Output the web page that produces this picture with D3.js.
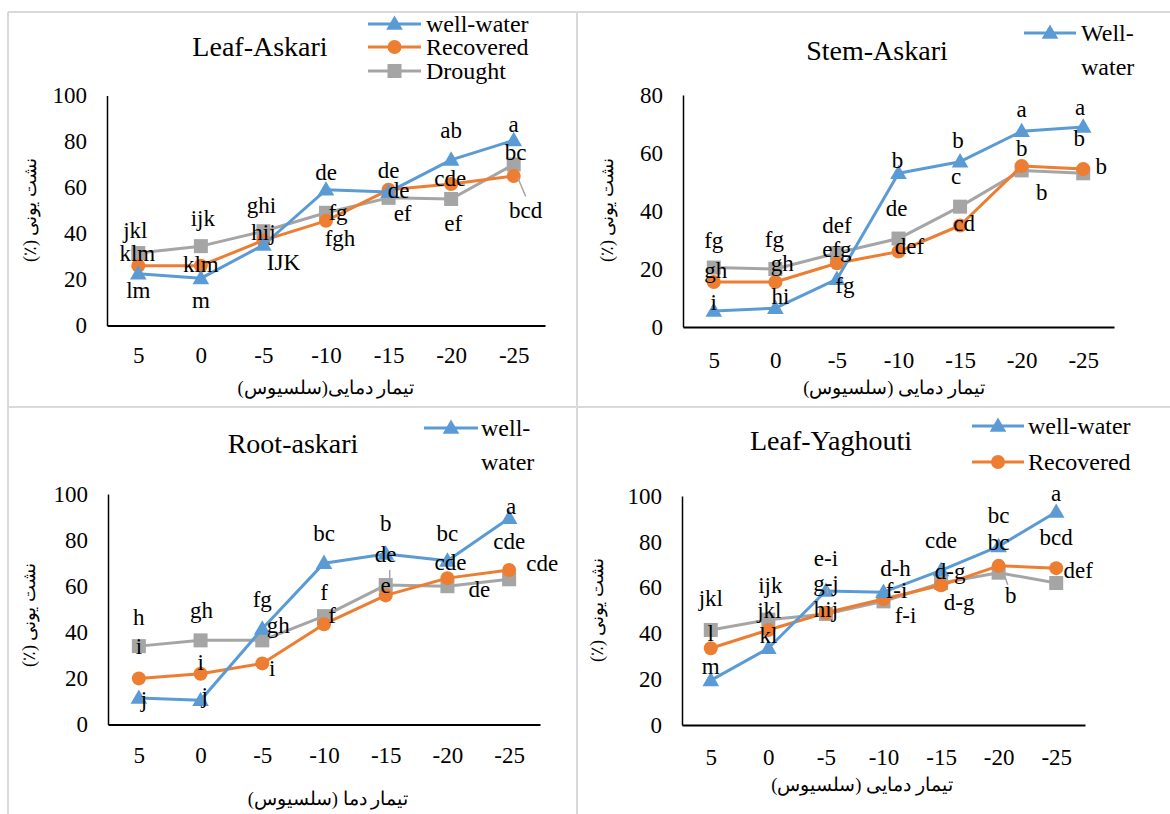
<!DOCTYPE html>
<html><head><meta charset="utf-8">
<script src="https://cdn.jsdelivr.net/npm/d3@7"></script>
<style>body{margin:0;background:#fff}svg{display:block}
text{font-family:"Liberation Serif","Times New Roman","DejaVu Serif",serif}</style>
</head><body>
<svg id="chart" width="1170" height="814"></svg>
<script>
// ---------------- DATA ----------------
const categories = ["5", "0", "-5", "-10", "-15", "-20", "-25"];
const ticks100 = [0, 20, 40, 60, 80, 100];
const ticks80 = [0, 20, 40, 60, 80];
const seriesNames = ["well-water", "Recovered", "Drought"];

// Leaf-Askari
const leafAskariWell = [22.5, 20.5, 35, 59, 58, 72, 80.5];
const leafAskariRecovered = [26, 26, 37, 45.5, 59, 61.5, 65];
const leafAskariDrought = [31.5, 34.5, 41, 49, 55.5, 55, 70];
const leafAskariWellLetters = ["lm", "m", "IJK", "de", "de", "ab", "a"];
const leafAskariRecoveredLetters = ["klm", "klm", "hij", "fgh", "de", "cde", "bc"];
const leafAskariDroughtLetters = ["jkl", "ijk", "ghi", "fg", "ef", "ef", "bcd"];

// Stem-Askari
const stemAskariWell = [5.5, 6.5, 16.5, 53, 57, 67.5, 69];
const stemAskariRecovered = [15.5, 15.5, 22, 26, 35, 55.5, 54.5];
const stemAskariDrought = [20.5, 20, 25.5, 30.5, 41.5, 54, 53];
const stemAskariWellLetters = ["i", "hi", "fg", "b", "b", "a", "a"];
const stemAskariRecoveredLetters = ["gh", "gh", "efg", "def", "cd", "b", "b"];
const stemAskariDroughtLetters = ["fg", "fg", "def", "de", "c", "b", "b"];

// Root-askari
const rootAskariWell = [11.5, 10.5, 41.5, 70, 74, 71, 89.5];
const rootAskariRecovered = [20, 22, 26.5, 43.5, 56, 63.5, 67];
const rootAskariDrought = [34, 36.5, 36.5, 47, 60.5, 60, 63];
const rootAskariWellLetters = ["j", "j", "fg", "bc", "b", "bc", "a"];
const rootAskariRecoveredLetters = ["i", "i", "i", "f", "de", "cde", "cde"];
const rootAskariDroughtLetters = ["h", "gh", "gh", "f", "e", "de", "cde"];

// Leaf-Yaghouti
const leafYaghoutiWell = [19.5, 33.5, 58.5, 58, 67.5, 78, 93];
const leafYaghoutiRecovered = [33.5, 41.5, 49, 55, 61, 69.5, 68.5];
const leafYaghoutiDrought = [41.5, 46, 48.5, 54, 62, 66.5, 62];
const leafYaghoutiWellLetters = ["m", "kl", "e-i", "d-h", "cde", "bc", "a"];
const leafYaghoutiRecoveredLetters = ["l", "jkl", "hij", "f-i", "d-g", "bc", "def"];
const leafYaghoutiDroughtLetters = ["jkl", "ijk", "g-j", "f-i", "d-g", "b", "bcd"];

const yTitle = "نشت یونی (٪)";

// ---------------- LAYOUT / STYLE ----------------
const colors = {"well-water": "#5B9BD5", "Recovered": "#ED7D31", "Drought": "#A5A5A5"};

// label offsets (px) relative to their point
const panels = [
  {
    title: "Leaf-Askari", titleX: 260, titleY: 46,
    xTitle: "تیمار دمایی(سلسیوس)", xTitleX: 326, xTitleY: 388,
    yTitleX: 30, yTitleY: 210,
    x0: 107, x1: 545, yB: 325.5, yT: 95.5, yMax: 100, ticks: ticks100, tickY: 355,
    legend: {x1: 368, x2: 421, tx: 426, rows: [["well-water", ["well-water"], 24], ["Recovered", ["Recovered"], 47], ["Drought", ["Drought"], 71]]},
    series: [
      {name: "Drought", values: leafAskariDrought, letters: leafAskariDroughtLetters,
       off: [[-3,-23],[2,-28],[-2,-26],[12,-1],[14,15],[2,24],[12,45]],
       leaders: {6: [4,13,12,32]}},
      {name: "Recovered", values: leafAskariRecovered, letters: leafAskariRecoveredLetters,
       off: [[-1,-13],[0,-2],[0,-8],[14,17],[10,0],[-1,-6],[2,-24]]},
      {name: "well-water", values: leafAskariWell, letters: leafAskariWellLetters,
       off: [[0,16],[0,22],[20,17],[0,-18],[0,-22],[0,-30],[0,-16]]}
    ]
  },
  {
    title: "Stem-Askari", titleX: 877, titleY: 50,
    xTitle: "تیمار دمایی (سلسیوس)", xTitleX: 894, xTitleY: 388,
    yTitleX: 607, yTitleY: 210,
    x0: 683, x1: 1114, yB: 327, yT: 95, yMax: 80, ticks: ticks80, tickY: 360,
    legend: {x1: 1024, x2: 1076, tx: 1081, rows: [["well-water", ["Well-", "water"], 33]]},
    series: [
      {name: "Drought", values: stemAskariDrought, letters: stemAskariDroughtLetters,
       off: [[0,-28],[-1,-30],[0,-28],[-2,-31],[-4,-31],[20,22],[-4,-35]]},
      {name: "Recovered", values: stemAskariRecovered, letters: stemAskariRecoveredLetters,
       off: [[2,-12],[7,-19],[0,-14],[11,-6],[4,-3],[0,-18],[18,-3]]},
      {name: "well-water", values: stemAskariWell, letters: stemAskariWellLetters,
       off: [[0,-9],[5,-12],[8,6],[-1,-13],[-2,-22],[0,-22],[-3,-20]]}
    ]
  },
  {
    title: "Root-askari", titleX: 293, titleY: 443,
    xTitle: "تیمار دما (سلسیوس)", xTitleX: 328, xTitleY: 799,
    yTitleX: 29, yTitleY: 615,
    x0: 108, x1: 540, yB: 724.5, yT: 494, yMax: 100, ticks: ticks100, tickY: 755,
    legend: {x1: 424, x2: 478, tx: 481, rows: [["well-water", ["well-", "water"], 428]]},
    series: [
      {name: "Drought", values: rootAskariDrought, letters: rootAskariDroughtLetters,
       off: [[0,-29],[1,-30],[16,-15],[0,-24],[0,0],[32,3],[0,-38]],
       leaders: {4: [4,-15,4,-5]}},
      {name: "Recovered", values: rootAskariRecovered, letters: rootAskariRecoveredLetters,
       off: [[0,-32],[0,-12],[10,5],[8,-9],[0,-41],[3,-16],[33,-7]]},
      {name: "well-water", values: rootAskariWell, letters: rootAskariWellLetters,
       off: [[5,1],[4,-5],[0,-30],[0,-30],[0,-31],[0,-28],[2,-12]]}
    ]
  },
  {
    title: "Leaf-Yaghouti", titleX: 831, titleY: 440,
    xTitle: "تیمار دمایی (سلسیوس)", xTitleX: 862, xTitleY: 785,
    yTitleX: 597, yTitleY: 610,
    x0: 682, x1: 1085, yB: 725, yT: 496, yMax: 100, ticks: ticks100, tickY: 757,
    legend: {x1: 972, x2: 1024, tx: 1028, rows: [["well-water", ["well-water"], 426], ["Recovered", ["Recovered"], 462]]},
    series: [
      {name: "Drought", values: leafYaghoutiDrought, letters: leafYaghoutiDroughtLetters,
       off: [[0,-32],[2,-35],[0,-31],[13,-11],[18,19],[12,22],[0,-46]],
       leaders: {2: [1.5,-27,1.5,-20], 5: [6,3,9,12]}},
      {name: "Recovered", values: leafYaghoutiRecovered, letters: leafYaghoutiRecoveredLetters,
       off: [[0,-15],[1,-20],[0,-4],[22,16],[9,-14],[0,-24],[22,2]]},
      {name: "well-water", values: leafYaghoutiWell, letters: leafYaghoutiWellLetters,
       off: [[0,-14],[0,-13],[0,-33],[12,-24],[0,-30],[0,-31],[0,-19]]}
    ]
  }
];

// ---------------- DRAW ----------------
const serif = '"Liberation Serif","Times New Roman","DejaVu Serif",serif';
const svg = d3.select("#chart");
svg.append("rect").attr("width", 1170).attr("height", 814).attr("fill", "#fff");

// panel frames
const frame = svg.append("g").attr("stroke", "#d9d9d9").attr("stroke-width", 2).attr("fill", "none");
[[8, 12, 1170, 12], [8, 407, 1170, 407], [8, 12, 8, 814], [577, 12, 577, 814]].forEach(l =>
  frame.append("line").attr("x1", l[0]).attr("y1", l[1]).attr("x2", l[2]).attr("y2", l[3]));

function marker(g, name, x, y) {
  const c = colors[name];
  if (name === "well-water") {
    g.append("path").attr("d", d3.symbol(d3.symbolTriangle, 120)())
      .attr("transform", `translate(${x},${y + 1})`).attr("fill", c);
  } else if (name === "Recovered") {
    g.append("circle").attr("cx", x).attr("cy", y).attr("r", 7).attr("fill", c);
  } else {
    g.append("rect").attr("x", x - 7).attr("y", y - 7).attr("width", 14).attr("height", 14).attr("fill", c);
  }
}

panels.forEach(p => {
  const g = svg.append("g");
  const x = d3.scalePoint().domain(categories).range([p.x0, p.x1]).padding(0.5);
  const y = d3.scaleLinear().domain([0, p.yMax]).range([p.yB, p.yT]);

  // axes
  const yAxis = d3.axisLeft(y).tickValues(p.ticks).tickSize(0).tickPadding(20);
  const ya = g.append("g").attr("transform", `translate(${p.x0},0)`).call(yAxis);
  ya.attr("font-family", null);
  ya.select(".domain").attr("stroke", "#000").attr("stroke-width", 1.5);
  ya.selectAll("text").style("font-family", serif).attr("font-size", 23).attr("fill", "#000");

  const xAxis = d3.axisBottom(x).tickSize(0).tickPadding(0);
  const xa = g.append("g").attr("transform", `translate(0,${p.yB})`).call(xAxis);
  xa.attr("font-family", null);
  xa.select(".domain").attr("stroke", "#000").attr("stroke-width", 2.2);
  xa.selectAll("text").style("font-family", serif).attr("font-size", 23).attr("fill", "#000")
    .attr("y", p.tickY - p.yB).attr("dy", "0.35em");

  // titles
  g.append("text").attr("x", p.titleX).attr("y", p.titleY).attr("dy", "0.35em")
    .attr("text-anchor", "middle").style("font-family", serif).attr("font-size", 28).text(p.title);
  g.append("text").attr("x", p.xTitleX).attr("y", p.xTitleY).attr("dy", "0.35em")
    .attr("direction", "rtl").style("direction", "rtl").style("unicode-bidi", "embed")
    .attr("text-anchor", "middle").style("font-family", serif).attr("font-size", 18.5).text(p.xTitle);
  g.append("text").attr("transform", `translate(${p.yTitleX},${p.yTitleY}) rotate(-90)`).attr("dy", "0.35em")
    .attr("direction", "rtl").style("direction", "rtl").style("unicode-bidi", "embed")
    .attr("text-anchor", "middle").style("font-family", serif).attr("font-size", 18).text(yTitle);

  // lines and markers
  p.series.forEach(s => {
    const line = d3.line().x((d, i) => x(categories[i])).y(d => y(d));
    g.append("path").datum(s.values).attr("d", line).attr("fill", "none")
      .attr("stroke", colors[s.name]).attr("stroke-width", 3).attr("stroke-linejoin", "round");
    s.values.forEach((v, i) => marker(g, s.name, x(categories[i]), y(v)));
  });

  // leaders and labels
  p.series.forEach(s => {
    if (s.leaders) {
      Object.keys(s.leaders).forEach(k => {
        const i = +k, l = s.leaders[k];
        const px = x(categories[i]), py = y(s.values[i]);
        g.append("line").attr("x1", px + l[0]).attr("y1", py + l[1]).attr("x2", px + l[2]).attr("y2", py + l[3])
          .attr("stroke", "#A5A5A5").attr("stroke-width", 1.5);
      });
    }
    s.letters.forEach((t, i) => {
      g.append("text").attr("x", x(categories[i]) + s.off[i][0]).attr("y", y(s.values[i]) + s.off[i][1])
        .attr("dy", "0.35em").attr("text-anchor", "middle").style("font-family", serif)
        .attr("font-size", 23).attr("fill", "#000").text(t);
    });
  });

  // legend
  p.legend.rows.forEach(r => {
    const [name, lines, ly] = r;
    g.append("line").attr("x1", p.legend.x1).attr("x2", p.legend.x2).attr("y1", ly).attr("y2", ly)
      .attr("stroke", colors[name]).attr("stroke-width", 3);
    marker(g, name, (p.legend.x1 + p.legend.x2) / 2, ly);
    lines.forEach((t, j) => {
      g.append("text").attr("x", p.legend.tx).attr("y", ly + j * 34).attr("dy", "0.35em")
        .style("font-family", serif).attr("font-size", 24).attr("fill", "#000").text(t);
    });
  });
});
</script>
</body></html>
